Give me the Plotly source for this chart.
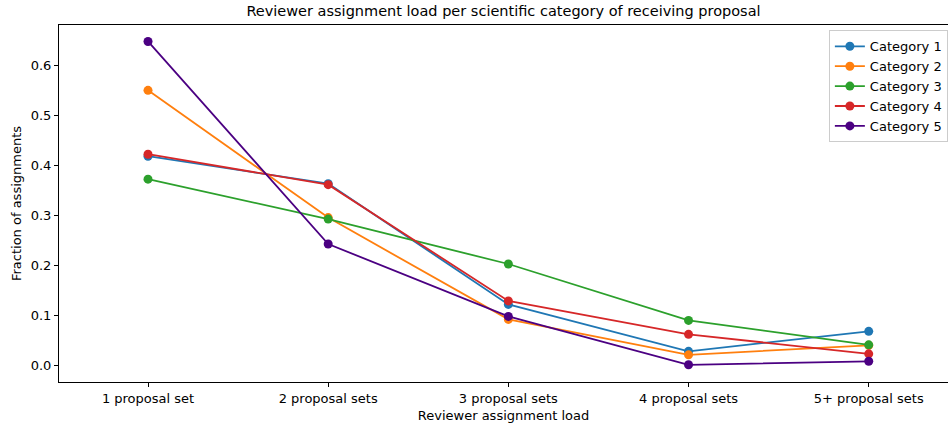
import plotly.graph_objects as go

categories = ["1 proposal set", "2 proposal sets", "3 proposal sets", "4 proposal sets", "5+ proposal sets"]
series_names = ["Category 1", "Category 2", "Category 3", "Category 4", "Category 5"]
cat1 = [0.419, 0.364, 0.122, 0.028, 0.068]
cat2 = [0.551, 0.296, 0.092, 0.021, 0.040]
cat3 = [0.373, 0.293, 0.203, 0.090, 0.041]
cat4 = [0.423, 0.362, 0.129, 0.062, 0.023]
cat5 = [0.649, 0.243, 0.098, 0.001, 0.008]
colors = ["#1f77b4", "#ff7f0e", "#2ca02c", "#d62728", "#4b0082"]

xs = list(range(len(categories)))
fig = go.Figure()
for name, vals, c in zip(series_names, [cat1, cat2, cat3, cat4, cat5], colors):
    fig.add_trace(go.Scatter(x=xs, y=vals, mode="lines+markers", name=name,
                             line=dict(color=c, width=1.8),
                             marker=dict(color=c, size=9)))

FONT = "DejaVu Sans, Verdana, sans-serif"
fig.update_layout(
    width=948, height=425,
    margin=dict(l=59, r=0, t=25, b=43, autoexpand=False),
    plot_bgcolor="white", paper_bgcolor="white",
    font=dict(family=FONT, size=13, color="black"),
    title=dict(text="Reviewer assignment load per scientific category of receiving proposal",
               x=0.5, xref="paper", xanchor="center", y=1, yref="container", yanchor="top", pad=dict(t=6),
               font=dict(family=FONT, size=14.5)),
    xaxis=dict(range=[-0.494, 4.44], tickvals=xs, ticktext=categories, automargin=False,
               showline=True, linecolor="black", linewidth=1, mirror=True,
               ticks="outside", ticklen=4, tickcolor="black", showgrid=False, zeroline=False,
               tickfont=dict(family=FONT, size=13),
               title=dict(text="Reviewer assignment load", standoff=6, font=dict(family=FONT, size=13))),
    yaxis=dict(range=[-0.0335, 0.682], tickvals=[0, 0.1, 0.2, 0.3, 0.4, 0.5, 0.6], automargin=False,
               tickformat=".1f",
               showline=True, linecolor="black", linewidth=1, mirror=True,
               ticks="outside", ticklen=4, tickcolor="black", showgrid=False, zeroline=False,
               tickfont=dict(family=FONT, size=13),
               title=dict(text="Fraction of assignments", standoff=6, font=dict(family=FONT, size=13))),
    legend=dict(x=0.866, y=0.985, xanchor="left", yanchor="top",
                bordercolor="#cccccc", borderwidth=1, bgcolor="rgba(255,255,255,0.8)",
                font=dict(family=FONT, size=13), tracegroupgap=0, itemwidth=30),
)
fig.write_html("out.html", config={"displayModeBar": False},
               post_script="document.body.style.margin='0';document.body.style.overflow='hidden';")
